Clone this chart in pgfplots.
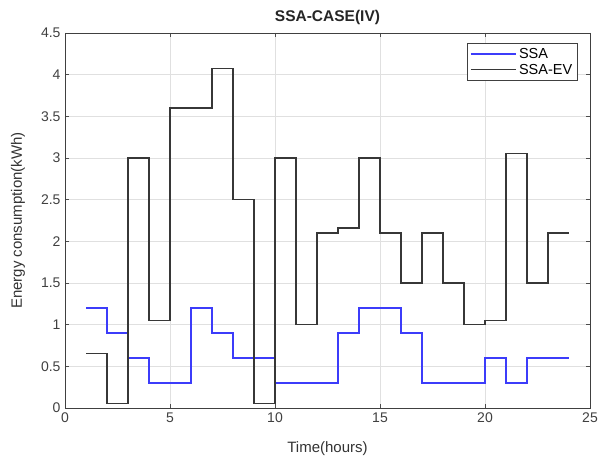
\documentclass[border=0pt]{standalone}
\usepackage{pgfplots}
\pgfplotsset{compat=1.18}
\usepackage{fontspec}
\setmainfont{Liberation Sans}

% Hourly energy use, stairs style (value held from hour h to h+1)
\pgfplotstableread{
h  ssa  ev
1  1.2  0.65
2  0.9  0.05
3  0.6  3.0
4  0.3  1.05
5  0.3  3.6
6  1.2  3.6
7  0.9  4.07
8  0.6  2.5
9  0.6  0.05
10 0.3  3.0
11 0.3  1.0
12 0.3  2.1
13 0.9  2.16
14 1.2  3.0
15 1.2  2.1
16 0.9  1.5
17 0.3  2.1
18 0.3  1.5
19 0.3  1.0
20 0.6  1.05
21 0.3  3.05
22 0.6  1.5
23 0.6  2.1
24 0.6  2.1
}\energy

\definecolor{ssablue}{RGB}{60,60,250}
\definecolor{evblack}{RGB}{55,55,55}

\begin{document}
\begin{tikzpicture}
\begin{axis}[
  at={(0,0)}, anchor=south west,
  scale only axis,
  width=525pt, height=375pt,
  xmin=0, xmax=25, ymin=0, ymax=4.5,
  xtick={0,5,...,25},
  ytick={0,0.5,...,4.5},
  yticklabels={0,0.5,1,1.5,2,2.5,3,3.5,4,4.5},
  /pgf/number format/assume math mode=true,
  tick label style={font=\fontsize{14}{16}\selectfont, text=black!75},
  xticklabel style={yshift=-1pt},
  yticklabel style={xshift=-1pt},
  tick align=inside,
  major tick length=4pt,
  tick style={black!70, line width=0.6pt},
  grid=major,
  major grid style={black!12, line width=0.6pt},
  axis line style={black!75, line width=0.9pt},
  title={\bfseries SSA-CASE(IV)},
  title style={font=\fontsize{15.5}{18}\selectfont, text=black!85,
    at={(axis description cs:0.5,1)}, anchor=center, yshift=10pt},
  xlabel={Time(hours)},
  ylabel={Energy consumption(kWh)},
  label style={font=\fontsize{15}{17}\selectfont, text=black!80},
  xlabel style={at={(axis description cs:0.5,0)}, anchor=center, yshift=-41pt},
  ylabel style={at={(axis description cs:0,0.5)}, anchor=center, yshift=47pt},
  legend style={at={(0.976,0.973)}, anchor=north east,
    font=\fontsize{14.5}{16}\selectfont,
    draw=black!75,
    inner xsep=3pt, inner ysep=3pt, row sep=0pt},
  legend cell align=left,
  legend image code/.code={\draw[#1] (0cm,0cm) -- (1.6cm,0cm);},
]
\addplot[const plot, ssablue, line width=1.4pt] table[x=h, y=ssa] {\energy};
\addlegendentry{SSA}
\addplot[const plot, evblack, line width=1.2pt] table[x=h, y=ev] {\energy};
\addlegendentry{SSA-EV}
\end{axis}
\pgfresetboundingbox
\path (-65pt,-50pt) rectangle (534pt,408pt);
\end{tikzpicture}
\end{document}
